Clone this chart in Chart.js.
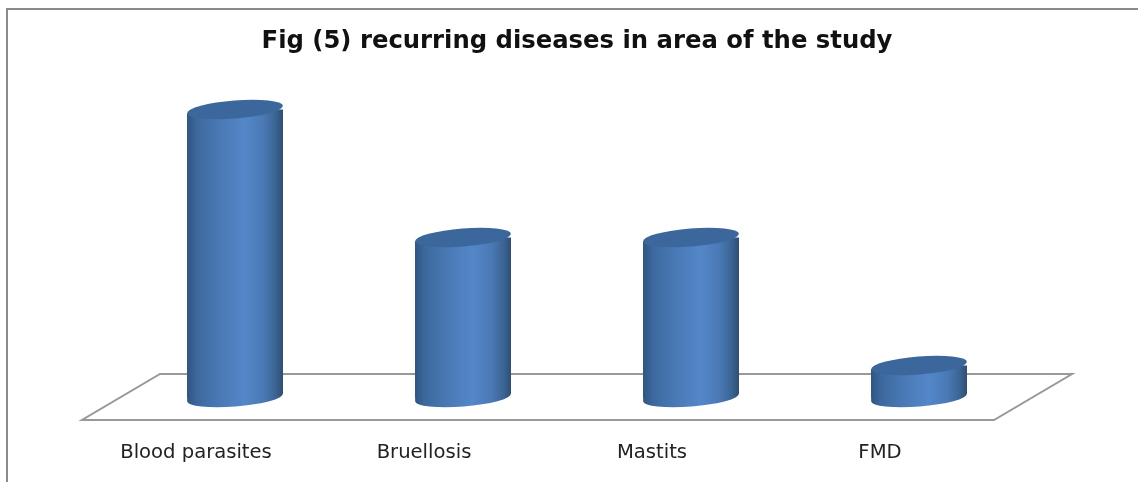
<!DOCTYPE html>
<html><head><meta charset="utf-8">
<style>html,body{margin:0;padding:0;background:#fff}canvas{display:block}</style>
<script src="https://cdn.jsdelivr.net/npm/chart.js@4"></script>
</head><body>
<div style="position:relative;width:1138px;height:482px"><canvas id="c"></canvas></div>
<script>
const categories = ["Blood parasites", "Bruellosis", "Mastits", "FMD"];
const values = [9, 5, 5, 1];
const titleText = "Fig (5) recurring diseases in area of the study";
const yMax = 10;

const TILT = -4.5 * Math.PI / 180, RY = 9, DY = 3.8;

function bodyGradient(ctx, cx, w) {
  const g = ctx.createLinearGradient(cx - w / 2, 0, cx + w / 2, 0);
  g.addColorStop(0, "#2f5583");
  g.addColorStop(0.1, "#3c689d");
  g.addColorStop(0.35, "#4a7ab6");
  g.addColorStop(0.6, "#5487c9");
  g.addColorStop(0.8, "#4a79b4");
  g.addColorStop(0.93, "#3a6391");
  g.addColorStop(1, "#2e4d75");
  return g;
}

const decor = {
  id: "decor",
  beforeDatasetsDraw(chart) {
    const { ctx, chartArea: a, scales: { y } } = chart;
    const base = y.getPixelForValue(0);
    ctx.save();
    ctx.strokeStyle = "#999999";
    ctx.lineWidth = 2;
    ctx.beginPath();
    ctx.moveTo(a.left - 39, base + 22.5);
    ctx.lineTo(a.right - 39, base + 22.5);
    ctx.lineTo(a.right + 39, base - 23.5);
    ctx.lineTo(a.left + 39, base - 23.5);
    ctx.closePath();
    ctx.stroke();
    ctx.restore();
    // keep the rectangular bar inside the tilted cylinder body
    const meta = chart.getDatasetMeta(0);
    ctx.save();
    ctx.beginPath();
    meta.data.forEach(b => {
      const l = b.x - b.width / 2, r = b.x + b.width / 2;
      ctx.moveTo(l, b.y + DY);
      ctx.lineTo(r, b.y - DY);
      ctx.lineTo(r, b.base - DY);
      ctx.lineTo(l, b.base + DY);
      ctx.closePath();
    });
    ctx.clip();
  },
  afterDatasetsDraw(chart) {
    const { ctx } = chart;
    ctx.restore();
    const meta = chart.getDatasetMeta(0);
    meta.data.forEach(b => {
      const l = b.x - b.width / 2, r = b.x + b.width / 2;
      ctx.save();
      ctx.fillStyle = bodyGradient(ctx, b.x, b.width);
      ctx.beginPath();
      ctx.moveTo(l, b.base - RY);
      ctx.lineTo(r, b.base - RY);
      ctx.lineTo(r, b.base - DY);
      ctx.ellipse(b.x, b.base, b.width / 2, RY, TILT, 0, Math.PI);
      ctx.closePath();
      ctx.fill();
      ctx.fillStyle = "#3b679c";
      ctx.beginPath();
      ctx.ellipse(b.x, b.y, b.width / 2, RY, TILT, 0, Math.PI * 2);
      ctx.fill();
      ctx.restore();
    });
  },
  afterDraw(chart) {
    const { ctx } = chart;
    ctx.save();
    ctx.strokeStyle = "#8a8a8a";
    ctx.lineWidth = 2;
    ctx.beginPath();
    ctx.moveTo(7, 482);
    ctx.lineTo(7, 9);
    ctx.lineTo(1138, 9);
    ctx.stroke();
    ctx.restore();
  }
};

new Chart(document.getElementById("c"), {
  type: "bar",
  data: {
    labels: categories,
    datasets: [{
      data: values,
      barPercentage: 0.421,
      categoryPercentage: 1,
      borderWidth: 0,
      backgroundColor(c) {
        const chart = c.chart;
        if (!chart.chartArea) return "#4f81bd";
        const x = chart.scales.x.getPixelForValue(c.dataIndex);
        const step = (chart.chartArea.right - chart.chartArea.left) / categories.length;
        return bodyGradient(chart.ctx, x, step * 0.421);
      }
    }]
  },
  plugins: [decor],
  options: {
    responsive: true,
    maintainAspectRatio: false,
    animation: false,
    layout: { padding: { left: 121, right: 105, top: 0, bottom: 0 } },
    plugins: {
      legend: { display: false },
      tooltip: { enabled: false },
      title: {
        display: true,
        text: titleText,
        fullSize: false,
        color: "#111",
        font: { family: "'DejaVu Sans'", size: 24.3, weight: "bold" },
        padding: { top: 27.4, bottom: 20.9 }
      }
    },
    scales: {
      y: { display: false, min: 0, max: yMax },
      x: {
        grid: { display: false },
        border: { display: false },
        afterFit(s) { s.height = 84.5; },
        ticks: {
          color: "#222",
          padding: 35.5,
          labelOffset: -39,
          maxRotation: 0,
          font: { family: "'DejaVu Sans'", size: 19.6 }
        }
      }
    }
  }
});
</script>
</body></html>
